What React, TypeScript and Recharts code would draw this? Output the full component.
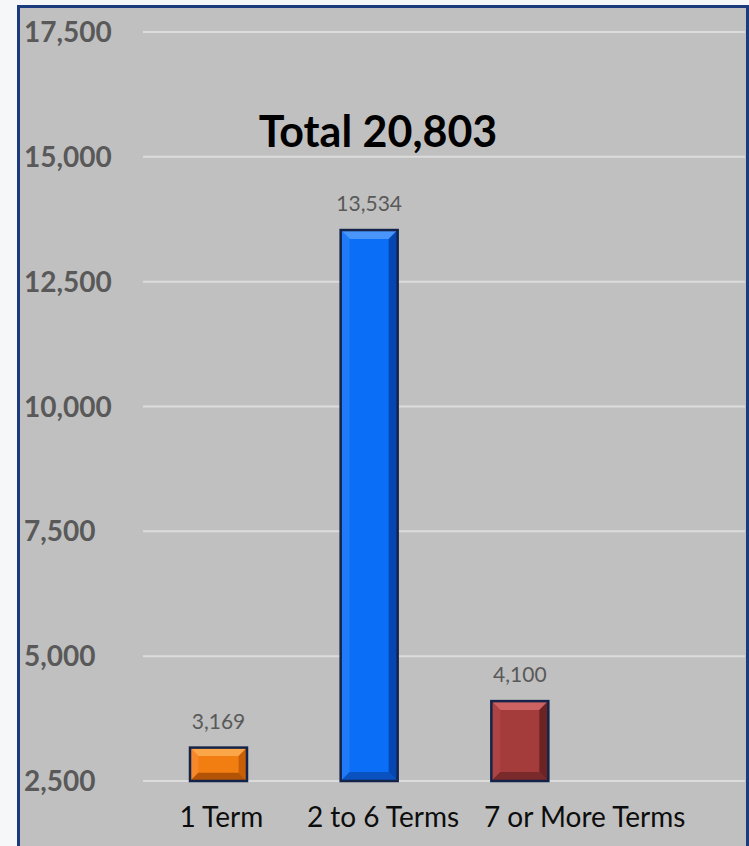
import { BarChart, Bar, XAxis, YAxis, CartesianGrid, LabelList } from "recharts";

const categories = ["1 Term", "2 to 6 Terms", "7 or More Terms"];
const counts = [3169, 13534, 4100];
const yTicks = [2500, 5000, 7500, 10000, 12500, 15000, 17500];

// base / light / dark tones for each bar
const palettes = [
  { base: "#f27d10", light: "#fba649", side: "#f5882a", dark: "#c85f06", bottom: "#b25306" },
  { base: "#0b6ef6", light: "#4a95fa", side: "#1f7bf7", dark: "#0646b0", bottom: "#0a52bf" },
  { base: "#a43c3c", light: "#cc6262", side: "#ad4343", dark: "#6c2323", bottom: "#7a2a2a" },
];
// the category labels in the original sit a bit right of their bars
const labelShift = [3, 14, 65];

const data = categories.map((name, i) => ({ name, value: counts[i] }));
const total = counts.reduce((a, b) => a + b, 0);

const fmt = (v: number) => v.toLocaleString("en-US");
const FONT = "Lato, 'Open Sans', sans-serif";

const BevelBar = (props: any) => {
  const { x, y, width: w, height: h, index } = props;
  if (!w || !h) return null;
  const p = palettes[index % palettes.length];
  const b = Math.min(9, w / 4, h / 4);
  return (
    <g>
      <rect x={x} y={y} width={w} height={h} fill={p.base} />
      <polygon points={`${x},${y} ${x + w},${y} ${x + w - b},${y + b} ${x + b},${y + b}`} fill={p.light} />
      <polygon points={`${x},${y} ${x + b},${y + b} ${x + b},${y + h - b} ${x},${y + h}`} fill={p.side} />
      <polygon points={`${x + w},${y} ${x + w},${y + h} ${x + w - b},${y + h - b} ${x + w - b},${y + b}`} fill={p.dark} />
      <polygon points={`${x},${y + h} ${x + b},${y + h - b} ${x + w - b},${y + h - b} ${x + w},${y + h}`} fill={p.bottom} />
      <rect x={x} y={y} width={w} height={h} fill="none" stroke="#14234a" strokeWidth={2.5} />
    </g>
  );
};

const YTick = (props: any) => {
  const { y, payload } = props;
  return (
    <text x={24} y={y} dy={10} textAnchor="start" fill="#595959" fontSize={28} fontWeight={700} fontFamily={FONT}>
      {fmt(payload.value)}
    </text>
  );
};

const XTick = (props: any) => {
  const { x, y, payload, index } = props;
  return (
    <text x={x + (labelShift[index] || 0)} y={y + 38} textAnchor="middle" fill="#0d0d0d" fontSize={28} fontFamily={FONT}>
      {payload.value}
    </text>
  );
};

export default function App() {
  return (
    <div style={{ position: "absolute", left: 0, top: 0, width: 749, height: 846, background: "#f6f7f8", overflow: "hidden" }}>
      <div
        style={{
          position: "absolute",
          left: 17,
          top: 5,
          width: 726,
          height: 860,
          background: "#c0c0c0",
          border: "3px solid #1c3a7e",
        }}
      />
      <div
        style={{
          position: "absolute",
          left: 218,
          top: 105,
          width: 320,
          textAlign: "center",
          fontFamily: FONT,
          fontWeight: 700,
          fontSize: 43,
          color: "#000",
          zIndex: 2,
        }}
      >
        Total {fmt(total)}
      </div>
      <div style={{ position: "absolute", left: 0, top: 0 }}>
        <BarChart width={749} height={846} data={data} margin={{ top: 32, right: 4, bottom: 0, left: 0 }}>
          <CartesianGrid vertical={false} stroke="#dcdcdc" strokeWidth={2} />
          <XAxis
            dataKey="name"
            height={65}
            axisLine={false}
            tickLine={false}
            padding={{ left: 0, right: 150 }}
            tick={<XTick />}
            interval={0}
          />
          <YAxis
            width={143}
            domain={[2500, 17500]}
            ticks={yTicks}
            axisLine={false}
            tickLine={false}
            tick={<YTick />}
            interval={0}
          />
          <Bar dataKey="value" barSize={57} shape={<BevelBar />} isAnimationActive={false}>
            <LabelList
              dataKey="value"
              position="top"
              offset={19}
              formatter={(v: any) => fmt(Number(v))}
              style={{ fill: "#595959", fontSize: 21, fontFamily: FONT }}
            />
          </Bar>
        </BarChart>
      </div>
    </div>
  );
}
